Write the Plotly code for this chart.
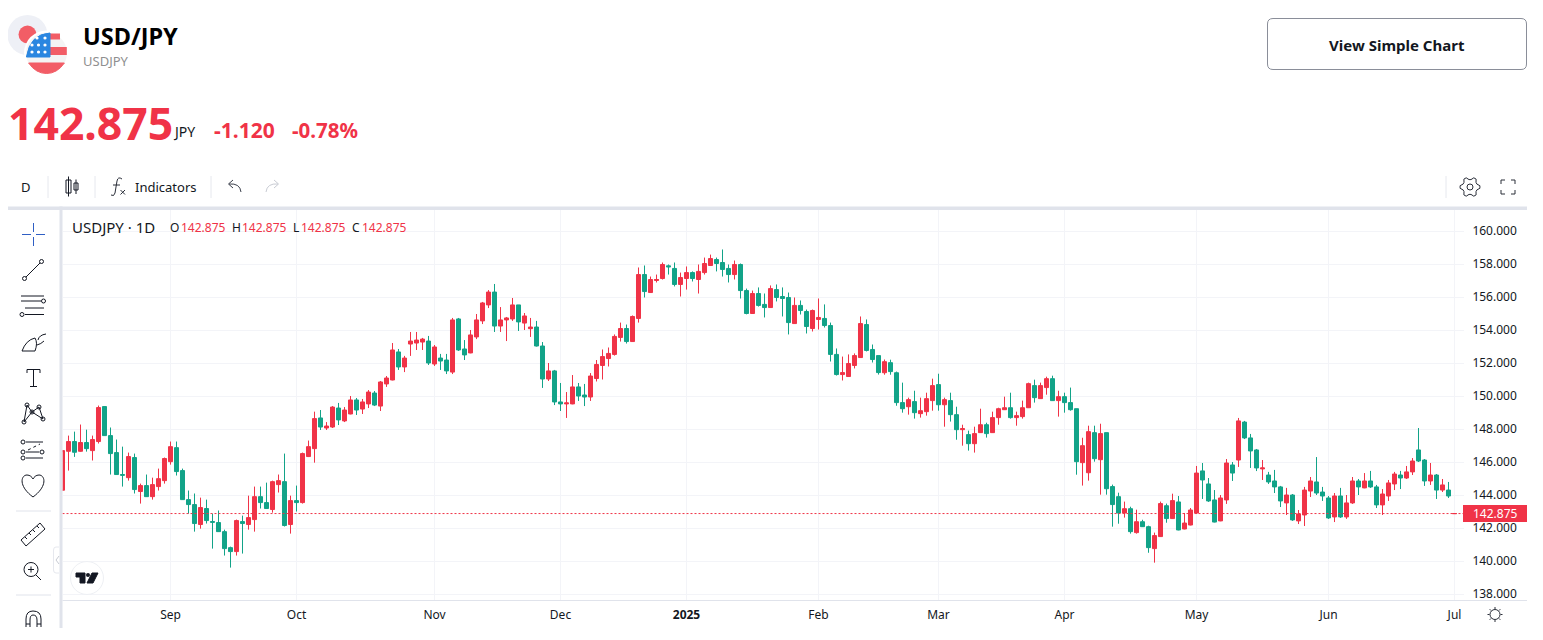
import math

import plotly.graph_objects as go

# daily USD/JPY candles
opens = [
    144.29, 146.65, 147.24, 146.65, 147.18, 146.69, 147.24, 149.36, 147.60, 146.57,
    145.24, 145.05, 146.27, 144.21, 144.57, 143.90, 144.51, 144.87, 146.02, 146.87,
    145.48, 143.72, 143.42, 142.21, 143.18, 142.39, 142.33, 141.78, 140.81, 140.57,
    142.39, 142.21, 142.51, 143.90, 143.54, 143.12, 144.63, 144.81, 142.21, 143.66,
    143.54, 146.33, 146.81, 148.67, 148.06, 148.12, 149.27, 148.49, 148.91, 149.76,
    149.21, 149.52, 150.18, 149.39, 150.73, 150.97, 152.67, 151.76, 153.15, 153.21,
    153.27, 153.33, 151.94, 152.30, 152.18, 151.45, 154.67, 152.85, 152.61, 153.58,
    154.55, 155.52, 156.30, 154.24, 154.61, 154.67, 155.52, 154.42, 154.08, 154.18,
    153.03, 151.03, 151.52, 149.64, 149.52, 149.52, 150.55, 150.06, 149.94, 151.06,
    151.85, 152.27, 152.52, 153.55, 154.09, 153.30, 154.70, 157.36, 156.27, 157.00,
    157.12, 157.89, 157.73, 156.76, 157.12, 157.48, 157.06, 157.48, 157.91, 158.27,
    158.09, 157.73, 157.36, 157.97, 156.39, 155.00, 156.21, 155.55, 155.36, 156.45,
    156.03, 155.97, 154.39, 155.49, 155.12, 154.09, 154.64, 154.70, 154.27, 152.52,
    151.30, 151.18, 151.85, 152.33, 154.33, 152.82, 152.45, 151.41, 152.02, 151.41,
    149.60, 149.35, 149.66, 148.93, 149.05, 149.72, 150.69, 149.47, 149.72, 148.87,
    147.96, 147.66, 147.11, 147.78, 148.26, 147.78, 148.69, 149.17, 149.29, 148.69,
    148.75, 149.29, 150.63, 149.84, 150.51, 151.05, 149.72, 149.96, 149.60, 149.23,
    145.96, 145.35, 147.78, 146.14, 147.78, 144.51, 143.90, 142.91, 143.17, 141.72,
    142.38, 142.08, 140.75, 141.48, 143.35, 142.57, 143.58, 141.94, 142.18, 142.91,
    145.46, 144.67, 143.70, 142.43, 143.70, 145.82, 146.12, 148.42, 147.46, 146.73,
    145.58, 145.21, 144.85, 144.49, 143.52, 144.00, 142.43, 142.79, 144.24, 144.79,
    144.18, 143.82, 142.67, 143.94, 142.67, 143.52, 144.85, 144.43, 144.85, 144.49,
    143.40, 143.94, 144.67, 145.21, 145.03, 145.40, 146.73, 146.12, 144.85, 145.21,
    144.30, 144.30, 142.87,
]
highs = [
    146.72, 147.60, 147.84, 148.27, 147.96, 147.60, 149.42, 149.36, 148.09, 147.36,
    146.93, 146.57, 146.51, 144.69, 145.24, 145.05, 145.60, 146.27, 147.24, 147.24,
    145.60, 144.27, 144.09, 143.84, 143.72, 142.87, 143.06, 141.90, 140.87, 142.51,
    142.75, 143.96, 144.51, 144.51, 144.75, 144.87, 145.24, 146.51, 143.96, 144.57,
    146.57, 147.30, 149.05, 149.15, 148.42, 149.39, 149.58, 149.33, 150.00, 149.88,
    149.82, 150.36, 150.30, 150.91, 151.21, 153.21, 152.85, 152.43, 153.88, 153.88,
    153.52, 153.64, 153.09, 152.55, 152.55, 154.73, 154.73, 153.39, 154.00, 154.97,
    155.70, 156.42, 156.79, 155.39, 154.79, 155.94, 155.52, 155.03, 154.73, 154.55,
    153.27, 152.00, 151.58, 150.79, 150.24, 151.27, 150.79, 150.73, 151.39, 152.18,
    152.82, 152.94, 153.73, 154.45, 154.33, 154.88, 157.79, 157.91, 157.24, 157.36,
    158.09, 157.97, 158.09, 157.48, 157.85, 157.55, 157.97, 158.39, 158.57, 158.39,
    158.88, 157.97, 158.21, 158.03, 156.51, 156.39, 156.58, 156.21, 156.70, 156.76,
    156.58, 156.27, 155.97, 155.79, 155.24, 155.24, 155.91, 155.55, 154.45, 152.88,
    152.39, 152.52, 152.58, 154.82, 154.64, 153.12, 152.45, 152.21, 152.20, 151.48,
    150.81, 149.90, 150.32, 149.90, 150.20, 151.05, 151.35, 149.90, 150.20, 149.35,
    148.26, 147.90, 148.14, 149.23, 148.38, 149.05, 149.29, 149.96, 150.20, 149.05,
    149.72, 150.81, 150.99, 150.81, 151.17, 151.23, 150.32, 150.20, 150.51, 149.23,
    147.47, 148.20, 148.20, 148.32, 147.78, 144.63, 144.14, 143.60, 143.29, 143.11,
    142.50, 142.14, 141.72, 143.60, 143.48, 144.08, 143.94, 142.91, 143.21, 145.76,
    145.94, 145.03, 144.30, 144.00, 146.18, 146.00, 148.67, 148.49, 147.70, 146.79,
    146.12, 145.40, 145.52, 144.55, 144.43, 144.06, 143.09, 144.49, 145.09, 146.30,
    144.49, 143.94, 144.12, 144.43, 144.00, 145.09, 144.97, 145.33, 145.46, 144.61,
    144.36, 144.91, 145.40, 145.46, 145.76, 146.24, 148.06, 146.18, 145.94, 145.27,
    144.97, 144.79, 142.875,
]
lows = [
    144.27, 145.48, 146.31, 146.62, 146.63, 146.09, 147.12, 147.58, 145.24, 145.22,
    144.51, 144.87, 144.09, 143.48, 143.88, 143.72, 144.27, 144.69, 145.84, 145.18,
    143.70, 142.87, 141.78, 141.96, 142.27, 140.75, 141.76, 140.33, 139.60, 140.33,
    140.45, 141.90, 141.78, 143.18, 143.16, 142.93, 144.15, 142.09, 141.66, 143.00,
    143.48, 146.30, 145.96, 147.94, 147.94, 148.06, 148.24, 148.42, 148.89, 148.85,
    148.91, 149.27, 149.39, 149.09, 150.55, 150.95, 151.58, 151.45, 152.43, 152.79,
    152.79, 151.88, 151.82, 151.58, 151.33, 151.33, 152.73, 152.18, 152.59, 153.45,
    154.36, 155.33, 153.88, 153.88, 153.33, 154.55, 153.94, 154.00, 153.58, 153.00,
    150.49, 150.91, 149.45, 149.09, 148.67, 149.50, 149.70, 149.39, 149.70, 150.88,
    151.00, 151.79, 152.45, 153.30, 153.18, 153.28, 154.45, 155.97, 156.25, 156.88,
    157.06, 157.36, 156.64, 156.03, 156.45, 156.94, 156.21, 157.36, 157.89, 157.55,
    157.24, 156.88, 157.06, 155.91, 154.95, 154.97, 155.42, 154.76, 155.34, 155.73,
    154.82, 153.73, 154.37, 154.94, 153.79, 153.91, 154.03, 154.15, 152.09, 151.24,
    150.94, 151.16, 151.67, 152.31, 152.70, 152.03, 151.30, 151.29, 151.29, 149.41,
    148.99, 148.87, 148.63, 148.69, 148.81, 149.11, 149.11, 148.14, 148.45, 147.35,
    146.99, 146.69, 146.57, 147.76, 147.48, 147.76, 148.26, 149.15, 148.63, 148.20,
    148.63, 149.27, 149.60, 149.82, 150.08, 149.70, 148.75, 148.99, 149.11, 145.23,
    144.57, 144.87, 146.02, 144.02, 144.02, 142.08, 142.26, 142.63, 141.66, 141.66,
    142.06, 140.50, 139.90, 141.46, 142.32, 142.55, 141.86, 141.92, 142.16, 142.85,
    143.76, 143.58, 142.34, 142.41, 143.46, 144.85, 145.70, 147.39, 145.64, 145.45,
    144.91, 144.67, 144.12, 143.27, 142.79, 142.43, 142.24, 142.12, 143.88, 144.00,
    143.64, 142.55, 142.36, 142.61, 142.55, 143.46, 144.00, 144.41, 144.43, 143.21,
    142.79, 143.64, 144.30, 144.36, 144.97, 145.21, 146.00, 144.55, 144.61, 143.76,
    144.18, 143.82, 142.875,
]
closes = [
    146.69, 147.24, 146.59, 147.18, 146.81, 147.36, 149.30, 147.60, 146.51, 145.24,
    145.20, 146.33, 144.33, 144.57, 143.90, 144.63, 144.99, 146.21, 146.93, 145.42,
    143.72, 143.42, 142.27, 143.24, 142.45, 142.35, 141.78, 140.75, 140.57, 142.45,
    142.27, 142.63, 143.90, 143.54, 143.18, 144.81, 144.87, 142.15, 143.66, 143.54,
    146.51, 146.93, 148.63, 148.12, 148.18, 149.33, 148.55, 149.15, 149.76, 149.15,
    149.64, 150.24, 149.45, 150.85, 151.09, 152.79, 151.76, 152.30, 153.33, 153.39,
    153.45, 152.00, 152.97, 152.12, 151.52, 154.61, 152.79, 152.49, 153.70, 154.61,
    155.64, 156.30, 154.24, 154.61, 154.73, 155.52, 154.49, 154.85, 154.18, 153.03,
    151.03, 151.52, 149.64, 149.52, 149.58, 150.55, 150.00, 149.94, 151.21, 151.91,
    152.39, 152.58, 153.61, 154.09, 153.30, 154.82, 157.36, 156.33, 157.06, 157.06,
    157.97, 157.83, 156.76, 157.18, 157.48, 157.12, 157.55, 158.03, 158.33, 158.03,
    157.67, 157.36, 157.97, 156.39, 155.00, 156.21, 155.49, 155.36, 156.51, 155.97,
    155.91, 154.45, 155.49, 155.18, 154.21, 155.18, 154.76, 154.27, 152.52, 151.30,
    151.42, 151.97, 152.45, 154.39, 152.76, 152.21, 151.42, 152.08, 151.48, 149.60,
    149.23, 149.78, 148.99, 149.11, 149.84, 150.63, 149.47, 149.78, 148.87, 147.96,
    148.02, 147.11, 147.72, 148.26, 147.72, 148.69, 149.23, 149.29, 148.69, 148.81,
    149.29, 150.75, 149.90, 150.63, 151.05, 149.72, 149.96, 149.60, 149.17, 146.02,
    146.99, 147.84, 146.20, 147.72, 144.38, 143.42, 142.91, 143.17, 141.78, 142.38,
    142.08, 140.81, 141.54, 143.48, 142.57, 143.66, 141.88, 142.30, 143.09, 145.33,
    144.91, 143.64, 142.36, 143.82, 145.94, 145.33, 148.49, 147.46, 146.67, 145.64,
    145.64, 144.79, 144.49, 143.64, 144.00, 142.49, 142.85, 144.30, 144.85, 144.12,
    143.94, 142.61, 143.94, 142.67, 143.52, 144.85, 144.49, 144.85, 144.49, 143.40,
    144.06, 144.73, 145.27, 145.03, 145.40, 146.06, 146.06, 144.85, 145.21, 144.30,
    144.61, 143.94, 142.875,
]
bar_index = list(range(len(opens)))

# first bar of each month, counted in trading days
month_positions = [18, 39, 62, 83, 104, 126, 146, 167, 189, 211, 232]
month_labels = ["Sep", "Oct", "Nov", "Dec", "<b>2025</b>", "Feb", "Mar", "Apr", "May", "Jun", "Jul"]
price_ticks = [138, 140, 142, 144, 146, 148, 150, 152, 154, 156, 158, 160]
last_price = 142.875

# page has an 8px body margin, so the figure is that much smaller than the window
W, H = 1543, 640
PAGE = 8
RED = "#f03347"
GREEN = "#12a388"
INK = "#131722"
FONT = "Noto Sans"

PLOT_L, PLOT_R = 62.5, 1464
PLOT_T, PLOT_B = 210, 600
BAR_STEP = 6
Y_160 = 231
PX_PER_UNIT = 16.5


def pixel_text(x, y, text, size=12, color=INK, anchor="left", weight=None):
    if weight:
        text = f"<b>{text}</b>"
    return dict(
        x=x, y=y, xref="x2", yref="y2", text=text, showarrow=False, xanchor=anchor,
        xshift=-2 if anchor == "left" else 0,  # annotation padding
        yanchor="middle", font=dict(family=FONT, size=size, color=color),
    )


def line(x0, y0, x1, y1, color=INK, width=1, dash="solid"):
    return dict(
        type="line", x0=x0, y0=y0, x1=x1, y1=y1, xref="x2", yref="y2",
        line=dict(color=color, width=width, dash=dash), layer="above",
    )


def rect(x0, y0, x1, y1, fill=None, color="rgba(0,0,0,0)", width=1):
    return dict(
        type="rect", x0=x0, y0=y0, x1=x1, y1=y1, xref="x2", yref="y2",
        fillcolor=fill or "rgba(0,0,0,0)", line=dict(color=color, width=width), layer="above",
    )


def circle(cx, cy, r, fill=None, color="rgba(0,0,0,0)", width=1):
    shape = rect(cx - r, cy - r, cx + r, cy + r, fill, color, width)
    shape["type"] = "circle"
    return shape


def path(d, color=INK, width=1, fill=None):
    return dict(
        type="path", path=d, xref="x2", yref="y2", fillcolor=fill or "rgba(0,0,0,0)",
        line=dict(color=color, width=width), layer="above",
    )


def gear(cx, cy, outer, inner, teeth=6):
    points = []
    for i in range(teeth * 4):
        r = outer if i % 4 in (0, 1) else inner
        a = 2 * math.pi * (i - 0.5) / (teeth * 4)
        points.append(f"{cx + r * math.cos(a):.1f} {cy + r * math.sin(a):.1f}")
    return path("M " + " L ".join(points) + " Z", "#2a2e39")


def sun(cx, cy):
    shapes = [circle(cx, cy, 5, None, "#2a2e39")]
    for i in range(8):
        a = math.pi * i / 4
        shapes.append(line(
            cx + 5.5 * math.cos(a), cy + 5.5 * math.sin(a),
            cx + 7.5 * math.cos(a), cy + 7.5 * math.sin(a), "#2a2e39",
        ))
    return shapes


def flag_shapes():
    flag_red = "#f25d66"
    shapes = [
        circle(27.5, 35, 20, "#eef0f6"),
        circle(27.5, 34.5, 9, flag_red),
        circle(46.5, 53, 22.5, "#ffffff"),
        circle(46.5, 53, 20.5, "#f4f4f4"),
        rect(50, 33.5, 60, 39.5, flag_red),
        rect(50, 47, 66.8, 55, flag_red),
        path("M 28.6 63 L 64.4 63 Q 57 73.5 46.5 73.5 Q 36 73.5 28.6 63 Z", flag_red, fill=flag_red),
        path("M 50 33 Q 30 34 26.4 57 L 50 57 Z", "#2a86e0", fill="#2a86e0"),
    ]
    for cx, cy in [(37, 38), (45, 38), (32, 45), (38.5, 45), (45, 45), (32, 52), (38.5, 52), (45, 52)]:
        shapes.append(circle(cx, cy, 1.6, "#ffffff"))
    return shapes


def toolbar_shapes():
    shapes = flag_shapes()
    # top button
    shapes.append(dict(
        type="path", xref="x2", yref="y2", layer="above", fillcolor="#ffffff",
        line=dict(color="#8a8e99", width=1),
        path="M 1273 18.5 L 1521 18.5 Q 1526.5 18.5 1526.5 24 L 1526.5 64 Q 1526.5 69.5 1521 69.5 "
             "L 1273 69.5 Q 1267.5 69.5 1267.5 64 L 1267.5 24 Q 1267.5 18.5 1273 18.5 Z",
    ))
    # toolbar separators and frame
    for x in [48, 95, 211, 1446]:
        shapes.append(line(x, 176, x, 198, "#e6e8ee"))
    shapes.append(rect(8, 206.5, 1527, 210, "#e0e3eb"))
    shapes.append(rect(59.5, 206.5, 62.5, 628, "#e0e3eb"))
    shapes.append(line(16, 511, 51, 511, "#e0e3eb"))
    shapes.append(line(16, 595, 51, 595, "#e0e3eb"))
    shapes.append(line(62.5, 600.5, 1527, 600.5, "#e0e3eb"))
    # drawing panel collapse handle
    shapes.append(path(
        "M 59 547 L 56 547 Q 53.5 547 53.5 550 L 53.5 570 Q 53.5 573 56 573 L 59 573", "#e6e8ee", fill="#ffffff",
    ))
    shapes.append(path("M 59 556 L 56 560 L 59 564", "#c8cbd3"))
    # candle style icon
    shapes.append(rect(66, 180, 71, 193, None, INK))
    shapes.append(line(68.5, 176.5, 68.5, 196.5))
    shapes.append(rect(74, 183, 78, 190, None, INK))
    shapes.append(line(76, 179.5, 76, 194))
    # function icon
    shapes.append(path("M 122 179 Q 118 176 117 181 L 115 193 Q 114 197 111 195 M 113 185 L 120 185", "#2a2e39"))
    shapes.append(line(120.5, 190, 125, 194.5, "#2a2e39"))
    shapes.append(line(125, 190, 120.5, 194.5, "#2a2e39"))
    # undo / redo
    shapes.append(path("M 241 192 Q 240 183 229 184 M 233 180 L 228.5 184 L 233 188", "#3a3f4b"))
    shapes.append(path("M 266 192 Q 267 183 278 184 M 274 180 L 278.5 184 L 274 188", "#c8cbd3"))
    # settings + fullscreen
    shapes.append(circle(1470, 187, 3, None, "#2a2e39"))
    shapes.append(gear(1470, 187, 10, 7.5))
    for d in [
        "M 1501 184 L 1501 180 L 1505 180", "M 1511 180 L 1515 180 L 1515 184",
        "M 1501 190 L 1501 194 L 1505 194", "M 1511 194 L 1515 194 L 1515 190",
    ]:
        shapes.append(path(d, "#2a2e39"))
    # crosshair tool
    blue = "#2f5fc4"
    shapes.extend([
        line(33.5, 223, 33.5, 232, blue), line(33.5, 237, 33.5, 246, blue),
        line(22, 234.5, 31, 234.5, blue), line(36, 234.5, 45, 234.5, blue),
    ])
    # trend line
    shapes.extend([line(26, 277, 40, 263), circle(24.5, 278.5, 2, None, INK), circle(41.5, 261.5, 2, None, INK)])
    # fib levels
    for y, x0, x1 in [(296, 21, 44), (301, 21, 41), (308, 25, 44), (314.5, 25, 44)]:
        shapes.append(line(x0, y, x1, y))
    shapes.extend([circle(43.5, 301, 2, None, INK), circle(22, 314.5, 2, None, INK)])
    # brush
    shapes.append(path("M 22 351 L 35 351 Q 38 343 35 338 Q 26 340 22 351 Z"))
    shapes.append(path("M 38 340 Q 39 335 46 334 M 37 345 Q 41 344 44 341"))
    # text tool
    shapes.append(path("M 27 373 L 27 369.5 L 40 369.5 L 40 373 M 33.5 369.5 L 33.5 386.5 M 30 386.5 L 37 386.5"))
    # pattern tool
    shapes.append(path("M 24 422 L 27 405 L 32 412 L 39 407 L 43 419 M 24 422 L 32 412 L 43 419"))
    for cx, cy in [(24, 422), (27, 405), (39, 407), (43, 419), (32, 412)]:
        shapes.append(circle(cx, cy, 2, None, INK, 1))
    # forecast tool
    for y, x0, x1 in [(442, 26, 43), (452, 26, 39), (458, 26, 43)]:
        shapes.append(line(x0, y, x1, y))
    shapes.append(line(28, 450, 40, 444, INK, 1, "dot"))
    for cx, cy in [(23, 442), (23, 452), (23, 458), (42, 452)]:
        shapes.append(circle(cx, cy, 2, None, INK))
    # heart
    shapes.append(path(
        "M 33 497 C 18 486 21 475 27 475 C 30 475 32 477 33 479 C 34 477 36 475 39 475 C 45 475 48 486 33 497 Z"
    ))
    # ruler
    shapes.append(path("M 21 540 L 40 523 L 45 529 L 26 546 Z"))
    for x, y in [(25, 537), (29, 533), (33, 530), (37, 526)]:
        shapes.append(line(x, y, x + 2, y + 2))
    # zoom
    shapes.extend([
        circle(31, 569.5, 7, None, INK), line(36, 575, 41, 580),
        line(28, 569.5, 34, 569.5), line(31, 566.5, 31, 572.5),
    ])
    # magnet
    shapes.append(path(
        "M 26 627 L 26 619 Q 26 611 33 611 Q 41 611 41 619 L 41 627 M 30 627 L 30 620 Q 30 615 33 615 "
        "Q 37 615 37 620 L 37 627 M 26 624 L 30 624 M 37 624 L 41 624"
    ))
    # tradingview badge
    shapes.append(circle(87, 578, 16.5, "#ffffff", "#eef0f4"))
    shapes.append(path("M 76 573 L 85 573 L 85 583 L 80 583 L 80 577 L 76 577 Z", INK, fill=INK))
    shapes.append(circle(88, 575, 2, INK))
    shapes.append(path("M 92 573 L 98 573 L 93 583 L 87 583 Z", INK, fill=INK))
    # last price tag
    shapes.append(rect(1463, 505, 1527, 522, RED))
    shapes.extend(sun(1495, 614.5))
    return shapes


def header_annotations():
    notes = [
        pixel_text(83, 36, "USD/JPY", 23.5, "#000000", weight=True),
        pixel_text(83, 61, "USDJPY", 13, "#8f8f8f"),
        pixel_text(8, 122, "142.875", 44.5, RED, weight=True),
        pixel_text(173, 131, "JPY", 14, INK),
        pixel_text(214, 130, "-1.120", 21, RED, weight=True),
        pixel_text(292, 130, "-0.78%", 20.5, RED, weight=True),
        pixel_text(1397, 45, "View Simple Chart", 15, "#131722", "center", weight=True),
        pixel_text(21, 187, "D", 13),
        pixel_text(135, 187, "Indicators", 13),
        pixel_text(72, 227, "USDJPY · 1D", 15),
        pixel_text(1495, 513.5, f"{last_price:.3f}", 12, "#ffffff", "center"),
    ]
    legend_x = [(170, "O", 180.5), (231.5, "H", 241.5), (292.5, "L", 300.5), (352, "C", 361.5)]
    for x, letter, value_x in legend_x:
        notes.append(pixel_text(x, 227, letter, 12))
        notes.append(pixel_text(value_x, 227, f"{last_price:.3f}", 12, RED))
    return notes


fig = go.Figure()

fig.add_trace(
    go.Candlestick(
        x=bar_index, open=opens, high=highs, low=lows, close=closes,
        increasing=dict(line=dict(color=RED, width=1), fillcolor=RED),
        decreasing=dict(line=dict(color=GREEN, width=1), fillcolor=GREEN),
        whiskerwidth=0, showlegend=False, hoverinfo="skip",
    )
)

# empty pixel-sized axes for the page furniture around the chart
fig.add_trace(go.Scatter(x=[0], y=[0], xaxis="x2", yaxis="y2", mode="markers", marker=dict(opacity=0), showlegend=False, hoverinfo="skip"))

fig.add_shape(
    type="line", xref="x domain", x0=0, x1=1, yref="y", y0=last_price, y1=last_price,
    line=dict(color=RED, width=1, dash="2px,2px"),
)

for shape in toolbar_shapes():
    fig.add_shape(shape)

fig_w, fig_h = W - PAGE, H - PAGE

fig.update_layout(
    width=fig_w, height=fig_h, autosize=False,
    margin=dict(l=0, r=0, t=0, b=0),
    paper_bgcolor="#ffffff", plot_bgcolor="rgba(0,0,0,0)",
    font=dict(family=FONT, size=12, color=INK),
    boxgap=0.33, boxgroupgap=0,
    annotations=header_annotations(),
    xaxis=dict(
        domain=[(PLOT_L - PAGE) / fig_w, (PLOT_R - PAGE) / fig_w],
        range=[0, (PLOT_R - PLOT_L) / BAR_STEP],
        tickmode="array", tickvals=month_positions, ticktext=month_labels,
        showgrid=True, gridcolor="#f3f4f8", gridwidth=1,
        ticks="outside", ticklen=4, tickcolor="rgba(0,0,0,0)",
        showline=False,
        zeroline=False, rangeslider=dict(visible=False),
        tickfont=dict(size=12, color=INK), anchor="y", automargin=False,
    ),
    yaxis=dict(
        domain=[(H - PLOT_B) / fig_h, (H - PLOT_T) / fig_h],
        range=[160 - (PLOT_B - Y_160) / PX_PER_UNIT, 160 + (Y_160 - PLOT_T) / PX_PER_UNIT],
        side="right", tickvals=price_ticks, tickformat=".3f",
        showgrid=True, gridcolor="#f3f4f8", gridwidth=1,
        ticks="outside", ticklen=5, tickcolor="rgba(0,0,0,0)",
        zeroline=False, tickfont=dict(size=12, color=INK), anchor="x", automargin=False,
    ),
    xaxis2=dict(domain=[0, 1], range=[PAGE, W], visible=False, fixedrange=True, anchor="y2"),
    yaxis2=dict(domain=[0, 1], range=[H, PAGE], visible=False, fixedrange=True, anchor="x2"),
)

fig.write_html("out.html")
